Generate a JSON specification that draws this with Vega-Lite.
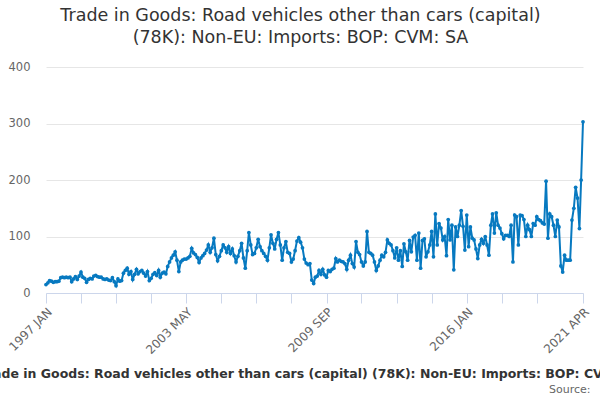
{
"$schema": "https://vega.github.io/schema/vega-lite/v6.json",
"width": 537, "height": 226,
"autosize": {"type": "none"},
"padding": {"left": 46, "top": 67, "right": 17, "bottom": 107},
"background": "white",
"title": {"text": ["Trade in Goods: Road vehicles other than cars (capital)", "(78K): Non-EU: Imports: BOP: CVM: SA"], "font": "DejaVu Sans", "fontSize": 17.5, "fontWeight": "normal", "color": "#333333", "anchor": "middle", "frame": "group", "dx": -14, "offset": 15, "lineHeight": 22},
"data": {"format": {"parse": {"d": "utc:'%Y-%m'"}}, "values": [
{"d":"1997-01","v":15},{"d":"1997-02","v":18},{"d":"1997-03","v":22},{"d":"1997-04","v":21},{"d":"1997-05","v":19},{"d":"1997-06","v":20},{"d":"1997-07","v":20},{"d":"1997-08","v":21},{"d":"1997-09","v":27},{"d":"1997-10","v":28},{"d":"1997-11","v":27},{"d":"1997-12","v":28},
{"d":"1998-01","v":27},{"d":"1998-02","v":28},{"d":"1998-03","v":20},{"d":"1998-04","v":25},{"d":"1998-05","v":29},{"d":"1998-06","v":24},{"d":"1998-07","v":30},{"d":"1998-08","v":37},{"d":"1998-09","v":28},{"d":"1998-10","v":26},{"d":"1998-11","v":19},{"d":"1998-12","v":24},
{"d":"1999-01","v":26},{"d":"1999-02","v":25},{"d":"1999-03","v":30},{"d":"1999-04","v":31},{"d":"1999-05","v":29},{"d":"1999-06","v":28},{"d":"1999-07","v":28},{"d":"1999-08","v":25},{"d":"1999-09","v":24},{"d":"1999-10","v":25},{"d":"1999-11","v":23},{"d":"1999-12","v":22},
{"d":"2000-01","v":27},{"d":"2000-02","v":20},{"d":"2000-03","v":13},{"d":"2000-04","v":25},{"d":"2000-05","v":21},{"d":"2000-06","v":22},{"d":"2000-07","v":35},{"d":"2000-08","v":40},{"d":"2000-09","v":44},{"d":"2000-10","v":33},{"d":"2000-11","v":38},{"d":"2000-12","v":24},
{"d":"2001-01","v":33},{"d":"2001-02","v":42},{"d":"2001-03","v":34},{"d":"2001-04","v":38},{"d":"2001-05","v":40},{"d":"2001-06","v":35},{"d":"2001-07","v":30},{"d":"2001-08","v":38},{"d":"2001-09","v":22},{"d":"2001-10","v":26},{"d":"2001-11","v":33},{"d":"2001-12","v":36},
{"d":"2002-01","v":31},{"d":"2002-02","v":40},{"d":"2002-03","v":28},{"d":"2002-04","v":35},{"d":"2002-05","v":37},{"d":"2002-06","v":34},{"d":"2002-07","v":47},{"d":"2002-08","v":55},{"d":"2002-09","v":62},{"d":"2002-10","v":67},{"d":"2002-11","v":73},{"d":"2002-12","v":58},
{"d":"2003-01","v":38},{"d":"2003-02","v":55},{"d":"2003-03","v":58},{"d":"2003-04","v":60},{"d":"2003-05","v":60},{"d":"2003-06","v":62},{"d":"2003-07","v":65},{"d":"2003-08","v":79},{"d":"2003-09","v":71},{"d":"2003-10","v":68},{"d":"2003-11","v":63},{"d":"2003-12","v":54},
{"d":"2004-01","v":62},{"d":"2004-02","v":66},{"d":"2004-03","v":70},{"d":"2004-04","v":76},{"d":"2004-05","v":85},{"d":"2004-06","v":72},{"d":"2004-07","v":80},{"d":"2004-08","v":97},{"d":"2004-09","v":68},{"d":"2004-10","v":57},{"d":"2004-11","v":65},{"d":"2004-12","v":75},
{"d":"2005-01","v":85},{"d":"2005-02","v":80},{"d":"2005-03","v":72},{"d":"2005-04","v":82},{"d":"2005-05","v":70},{"d":"2005-06","v":78},{"d":"2005-07","v":66},{"d":"2005-08","v":55},{"d":"2005-09","v":65},{"d":"2005-10","v":75},{"d":"2005-11","v":88},{"d":"2005-12","v":62},
{"d":"2006-01","v":44},{"d":"2006-02","v":75},{"d":"2006-03","v":107},{"d":"2006-04","v":85},{"d":"2006-05","v":68},{"d":"2006-06","v":70},{"d":"2006-07","v":80},{"d":"2006-08","v":95},{"d":"2006-09","v":82},{"d":"2006-10","v":75},{"d":"2006-11","v":70},{"d":"2006-12","v":65},
{"d":"2007-01","v":58},{"d":"2007-02","v":80},{"d":"2007-03","v":103},{"d":"2007-04","v":88},{"d":"2007-05","v":78},{"d":"2007-06","v":95},{"d":"2007-07","v":107},{"d":"2007-08","v":85},{"d":"2007-09","v":58},{"d":"2007-10","v":80},{"d":"2007-11","v":91},{"d":"2007-12","v":72},
{"d":"2008-01","v":70},{"d":"2008-02","v":55},{"d":"2008-03","v":60},{"d":"2008-04","v":75},{"d":"2008-05","v":92},{"d":"2008-06","v":98},{"d":"2008-07","v":90},{"d":"2008-08","v":80},{"d":"2008-09","v":60},{"d":"2008-10","v":53},{"d":"2008-11","v":50},{"d":"2008-12","v":52},
{"d":"2009-01","v":23},{"d":"2009-02","v":17},{"d":"2009-03","v":28},{"d":"2009-04","v":30},{"d":"2009-05","v":40},{"d":"2009-06","v":33},{"d":"2009-07","v":42},{"d":"2009-08","v":32},{"d":"2009-09","v":28},{"d":"2009-10","v":40},{"d":"2009-11","v":38},{"d":"2009-12","v":42},
{"d":"2010-01","v":44},{"d":"2010-02","v":61},{"d":"2010-03","v":55},{"d":"2010-04","v":58},{"d":"2010-05","v":56},{"d":"2010-06","v":55},{"d":"2010-07","v":52},{"d":"2010-08","v":42},{"d":"2010-09","v":58},{"d":"2010-10","v":67},{"d":"2010-11","v":52},{"d":"2010-12","v":46},
{"d":"2011-01","v":91},{"d":"2011-02","v":72},{"d":"2011-03","v":68},{"d":"2011-04","v":55},{"d":"2011-05","v":48},{"d":"2011-06","v":55},{"d":"2011-07","v":109},{"d":"2011-08","v":72},{"d":"2011-09","v":70},{"d":"2011-10","v":67},{"d":"2011-11","v":55},{"d":"2011-12","v":40},
{"d":"2012-01","v":48},{"d":"2012-02","v":58},{"d":"2012-03","v":67},{"d":"2012-04","v":64},{"d":"2012-05","v":72},{"d":"2012-06","v":94},{"d":"2012-07","v":88},{"d":"2012-08","v":85},{"d":"2012-09","v":75},{"d":"2012-10","v":62},{"d":"2012-11","v":80},{"d":"2012-12","v":58},
{"d":"2013-01","v":75},{"d":"2013-02","v":47},{"d":"2013-03","v":87},{"d":"2013-04","v":73},{"d":"2013-05","v":58},{"d":"2013-06","v":93},{"d":"2013-07","v":73},{"d":"2013-08","v":99},{"d":"2013-09","v":102},{"d":"2013-10","v":58},{"d":"2013-11","v":106},{"d":"2013-12","v":44},
{"d":"2014-01","v":93},{"d":"2014-02","v":96},{"d":"2014-03","v":64},{"d":"2014-04","v":73},{"d":"2014-05","v":85},{"d":"2014-06","v":109},{"d":"2014-07","v":64},{"d":"2014-08","v":140},{"d":"2014-09","v":85},{"d":"2014-10","v":123},{"d":"2014-11","v":115},{"d":"2014-12","v":94},
{"d":"2015-01","v":100},{"d":"2015-02","v":66},{"d":"2015-03","v":130},{"d":"2015-04","v":94},{"d":"2015-05","v":120},{"d":"2015-06","v":41},{"d":"2015-07","v":117},{"d":"2015-08","v":100},{"d":"2015-09","v":120},{"d":"2015-10","v":146},{"d":"2015-11","v":118},{"d":"2015-12","v":76},
{"d":"2016-01","v":138},{"d":"2016-02","v":82},{"d":"2016-03","v":117},{"d":"2016-04","v":97},{"d":"2016-05","v":94},{"d":"2016-06","v":78},{"d":"2016-07","v":61},{"d":"2016-08","v":85},{"d":"2016-09","v":95},{"d":"2016-10","v":88},{"d":"2016-11","v":100},{"d":"2016-12","v":85},
{"d":"2017-01","v":67},{"d":"2017-02","v":120},{"d":"2017-03","v":140},{"d":"2017-04","v":106},{"d":"2017-05","v":142},{"d":"2017-06","v":120},{"d":"2017-07","v":115},{"d":"2017-08","v":105},{"d":"2017-09","v":96},{"d":"2017-10","v":102},{"d":"2017-11","v":102},{"d":"2017-12","v":100},
{"d":"2018-01","v":120},{"d":"2018-02","v":55},{"d":"2018-03","v":138},{"d":"2018-04","v":135},{"d":"2018-05","v":85},{"d":"2018-06","v":138},{"d":"2018-07","v":137},{"d":"2018-08","v":130},{"d":"2018-09","v":100},{"d":"2018-10","v":120},{"d":"2018-11","v":112},{"d":"2018-12","v":100},
{"d":"2019-01","v":123},{"d":"2019-02","v":120},{"d":"2019-03","v":135},{"d":"2019-04","v":130},{"d":"2019-05","v":128},{"d":"2019-06","v":124},{"d":"2019-07","v":122},{"d":"2019-08","v":198},{"d":"2019-09","v":97},{"d":"2019-10","v":140},{"d":"2019-11","v":135},{"d":"2019-12","v":120},
{"d":"2020-01","v":100},{"d":"2020-02","v":129},{"d":"2020-03","v":117},{"d":"2020-04","v":48},{"d":"2020-05","v":37},{"d":"2020-06","v":67},{"d":"2020-07","v":58},{"d":"2020-08","v":58},{"d":"2020-09","v":58},{"d":"2020-10","v":129},{"d":"2020-11","v":150},{"d":"2020-12","v":187},
{"d":"2021-01","v":168},{"d":"2021-02","v":114},{"d":"2021-03","v":200},{"d":"2021-04","v":303}
]},
"layer": [
{"mark": {"type": "line", "color": "#0779c0", "strokeWidth": 2, "point": {"filled": true, "size": 14, "color": "#0779c0"}},
 "encoding": {
  "x": {"field": "d", "type": "temporal", "scale": {"type": "utc", "nice": false},
   "axis": {"values": [{"year":1997,"month":1,"utc":true},{"year":1998,"month":8,"utc":true},{"year":2000,"month":3,"utc":true},{"year":2001,"month":10,"utc":true},{"year":2003,"month":5,"utc":true},{"year":2004,"month":12,"utc":true},{"year":2006,"month":7,"utc":true},{"year":2008,"month":2,"utc":true},{"year":2009,"month":9,"utc":true},{"year":2011,"month":4,"utc":true},{"year":2012,"month":11,"utc":true},{"year":2014,"month":6,"utc":true},{"year":2016,"month":1,"utc":true},{"year":2017,"month":8,"utc":true},{"year":2019,"month":3,"utc":true},{"year":2021,"month":4,"utc":true}],
    "labelExpr": "indexof(['1997-01','2003-05','2009-09','2016-01','2021-04'], utcFormat(datum.value, '%Y-%m')) >= 0 ? upper(utcFormat(datum.value, '%Y %b')) : ''",
    "labelAngle": -45, "labelFontSize": 12, "labelColor": "#666666", "labelFont": "DejaVu Sans", "labelOverlap": false, "labelFlush": false, "labelPadding": 3,
    "domainColor": "#ccd6eb", "tickColor": "#ccd6eb", "tickSize": 10, "grid": false,
    "title": "Trade in Goods: Road vehicles other than cars (capital) (78K): Non-EU: Imports: BOP: CVM: SA",
    "titleFont": "DejaVu Sans", "titleFontSize": 12.5, "titleFontWeight": "bold", "titleColor": "#333333", "titleY": 80, "titleX": 265, "titleBaseline": "middle"}},
  "y": {"field": "v", "type": "quantitative", "scale": {"domain": [0, 400]},
   "axis": {"values": [0, 100, 200, 300, 400], "domain": false, "ticks": false, "gridColor": "#e6e6e6", "labelColor": "#666666", "labelFontSize": 11.5, "labelFont": "DejaVu Sans", "labelPadding": 16, "title": null}}
 }},
{"mark": {"type": "point", "opacity": 0},
 "encoding": {
  "x": {"field": "d", "type": "temporal",
   "axis": {"orient": "bottom", "labels": false, "ticks": false, "domain": false, "grid": false, "title": "Source: ", "titleFont": "DejaVu Sans", "titleFontSize": 11, "titleFontWeight": "normal", "titleColor": "#666666", "titleAlign": "right", "titleAnchor": "end", "titleX": 544, "titleY": 96, "titleBaseline": "middle"}},
  "y": {"field": "v", "type": "quantitative"}
 }}
],
"resolve": {"axis": {"x": "independent"}},
"config": {"view": {"stroke": null}, "font": "DejaVu Sans"}
}
